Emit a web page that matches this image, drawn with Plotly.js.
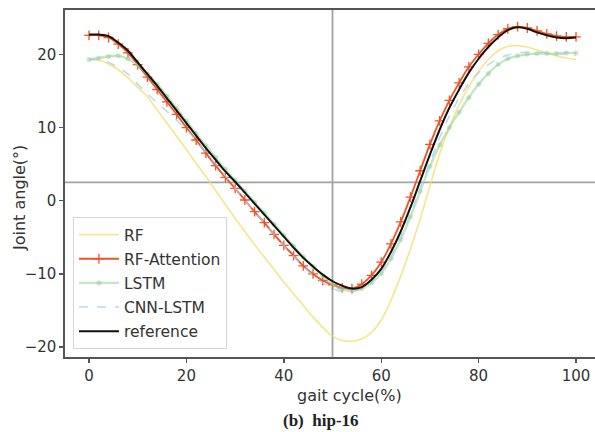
<!DOCTYPE html>
<html>
<head>
<meta charset="utf-8">
<script src="https://cdn.plot.ly/plotly-3.0.1.min.js"></script>
<style>
  html, body { margin: 0; padding: 0; background: #ffffff; }
  #chart { width: 595px; height: 432px; }
</style>
</head>
<body>
<div id="chart"></div>
<script>
// ---- data ----
const gaitCycle = [0,2,4,6,8,10,12,14,16,18,20,22,24,26,28,30,32,34,36,38,40,42,44,46,48,50,52,54,56,58,60,62,64,66,68,70,72,74,76,78,80,82,84,86,88,90,92,94,96,98,100];

const seriesNames = ["RF", "RF-Attention", "LSTM", "CNN-LSTM", "reference"];

const rfValues = [19.3,19.2,18.7,17.9,16.8,15.5,14.2,12.4,10.6,8.8,7.0,5.1,3.3,1.4,-0.5,-2.4,-4.2,-6.0,-7.7,-9.4,-11.1,-12.7,-14.3,-15.9,-17.3,-18.5,-19.1,-19.2,-18.9,-18.0,-16.3,-13.6,-10.3,-6.6,-2.5,2.0,6.4,10.0,13.1,15.6,17.7,19.3,20.5,21.1,21.2,21.0,20.6,20.2,19.8,19.5,19.3];

const rfAttentionValues = [22.6,22.6,22.3,21.4,20.2,18.6,16.9,15.2,13.5,11.8,10.0,8.3,6.5,4.8,3.2,1.7,0.1,-1.5,-3.0,-4.6,-6.1,-7.5,-8.9,-10.0,-10.9,-11.5,-11.9,-12.0,-11.4,-10.2,-8.4,-5.9,-2.9,0.5,4.1,7.7,10.9,13.7,16.1,18.3,20.0,21.5,22.7,23.5,23.8,23.6,23.2,22.8,22.5,22.4,22.4];

const lstmValues = [19.3,19.5,19.7,19.8,19.4,18.5,17.3,15.9,14.3,12.6,10.9,9.2,7.5,5.9,4.3,2.8,1.3,-0.2,-1.7,-3.2,-4.7,-6.2,-7.7,-9.0,-10.3,-11.4,-12.1,-12.3,-12.0,-11.2,-9.9,-7.9,-5.3,-2.2,1.3,4.7,7.6,10.0,12.1,14.1,15.9,17.4,18.6,19.4,19.8,20.0,20.1,20.1,20.1,20.2,20.2];

const cnnLstmValues = [19.3,19.3,18.9,18.2,17.3,15.9,14.6,13.4,12.2,11.0,9.7,8.2,6.6,5.0,3.4,1.7,0.1,-1.5,-3.0,-4.6,-6.1,-7.6,-9.0,-10.2,-11.2,-12.0,-12.4,-12.4,-12.0,-11.1,-9.7,-7.6,-4.9,-1.8,1.7,5.2,8.6,11.6,14.0,16.0,17.5,18.6,19.4,19.9,20.2,20.3,20.3,20.2,20.1,20.0,19.9];

const referenceValues = [22.7,22.7,22.5,21.6,20.5,18.9,17.3,15.7,14.0,12.3,10.6,8.9,7.2,5.6,4.0,2.6,1.1,-0.4,-1.9,-3.4,-4.9,-6.4,-7.8,-9.0,-10.1,-11.0,-11.6,-12.0,-11.8,-10.8,-9.3,-7.0,-4.2,-0.9,2.7,6.3,9.7,12.7,15.2,17.5,19.4,21.0,22.3,23.3,23.7,23.5,23.0,22.6,22.3,22.2,22.3];

const xTickValues = [0, 20, 40, 60, 80, 100];
const yTickValues = [-20, -10, 0, 10, 20];
const horizontalMarker = 2.5;
const verticalMarker = 50;

const xTitleText = "gait cycle(%)";
const yTitleText = "Joint angle(°)";
const captionText = "(b)\u00a0\u00a0hip-16";

// ---- traces ----
const font = "DejaVu Sans, sans-serif";
const traces = [
  {
    x: gaitCycle, y: rfValues, name: seriesNames[0], legendgroup: "g1",
    mode: "lines", type: "scatter",
    line: { color: "rgba(243,222,110,0.75)", width: 1.7, shape: "spline" }
  },
  {
    x: gaitCycle, y: rfAttentionValues, name: seriesNames[1], legendgroup: "g2",
    mode: "lines+markers", type: "scatter",
    line: { color: "#ee5427", width: 1.8, shape: "spline" },
    marker: { symbol: "cross-thin", size: 7, color: "#ee5427", line: { color: "#ee5427", width: 1.3 } }
  },
  {
    x: gaitCycle, y: lstmValues, name: seriesNames[2], legendgroup: "g3",
    mode: "lines+markers", type: "scatter",
    line: { color: "rgba(150,210,150,0.55)", width: 2.4, shape: "spline" },
    marker: { symbol: "circle", size: 5, color: "rgba(140,205,140,0.45)" }
  },
  {
    x: gaitCycle, y: cnnLstmValues, name: seriesNames[3], legendgroup: "g4",
    mode: "lines", type: "scatter",
    line: { color: "rgba(165,208,238,0.8)", width: 1.5, dash: "dash", shape: "spline" }
  },
  {
    x: gaitCycle, y: referenceValues, name: seriesNames[4], legendgroup: "g5",
    mode: "lines", type: "scatter",
    line: { color: "#111111", width: 2, shape: "spline" }
  }
];

const axisCommon = {
  showgrid: false, zeroline: false,
  showline: true, linecolor: "#555555", linewidth: 1.6,
  ticks: "outside", ticklen: 4, tickwidth: 1.4, tickcolor: "#555555",
  tickfont: { family: font, size: 15, color: "#333333" }
};

const layout = {
  width: 595, height: 432,
  margin: { l: 65, r: 0, t: 10, b: 75 },
  paper_bgcolor: "#ffffff", plot_bgcolor: "#ffffff",
  showlegend: true,
  xaxis: Object.assign({}, axisCommon, {
    range: [-4.93, 103.9], tickmode: "array", tickvals: xTickValues,
    mirror: true
  }),
  yaxis: Object.assign({}, axisCommon, {
    range: [-21.35, 26.06], tickmode: "array", tickvals: yTickValues,
    mirror: false
  }),
  shapes: [
    { type: "line", xref: "paper", x0: 0, x1: 1, yref: "y", y0: horizontalMarker, y1: horizontalMarker,
      line: { color: "#a3a3a3", width: 1.8 }, layer: "below" },
    { type: "line", xref: "x", x0: verticalMarker, x1: verticalMarker, yref: "paper", y0: 0, y1: 1,
      line: { color: "#a3a3a3", width: 1.8 }, layer: "below" }
  ],
  legend: {
    x: 0.015, y: 0.023, xanchor: "left", yanchor: "bottom",
    traceorder: "grouped", tracegroupgap: 1, itemwidth: 40,
    bgcolor: "rgba(255,255,255,0.85)", bordercolor: "#d6d6d6", borderwidth: 1,
    font: { family: font, size: 15.5, color: "#333333" }
  },
  annotations: [
    { text: xTitleText, xref: "paper", yref: "paper", x: (349 - 65) / 530, y: -(395 - 357) / 347,
      xanchor: "center", yanchor: "middle", showarrow: false,
      font: { family: font, size: 16, color: "#333333" } },
    { text: yTitleText, xref: "paper", yref: "paper", x: -(65 - 20) / 530, y: (357 - 198) / 347,
      xanchor: "center", yanchor: "middle", showarrow: false, textangle: -90,
      font: { family: font, size: 16, color: "#333333" } },
    { text: "<b>" + captionText + "</b>", xref: "paper", yref: "paper", x: (321 - 65) / 530, y: -(420 - 357) / 347,
      xanchor: "center", yanchor: "middle", showarrow: false,
      font: { family: "Liberation Serif, Times New Roman, serif", size: 17, color: "#222222" } }
  ]
};

Plotly.newPlot("chart", traces, layout, { staticPlot: true, displayModeBar: false });
</script>
</body>
</html>
